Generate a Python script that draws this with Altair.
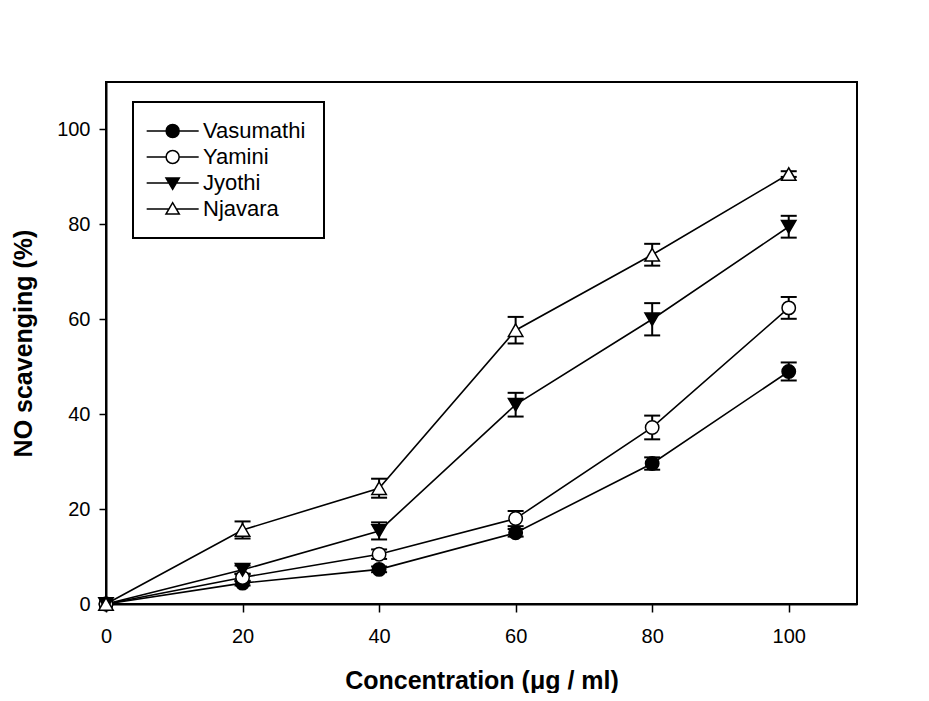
import altair as alt
import pandas as pd

# ---- data ----
conc = [0, 20, 40, 60, 80, 100]
series_names = ["Vasumathi", "Yamini", "Jyothi", "Njavara"]
vasumathi = [0, 4.4, 7.3, 15.0, 29.6, 49.0]
vasumathi_err = [0, 0.5, 0.6, 0.8, 1.3, 1.9]
yamini = [0, 5.6, 10.5, 18.0, 37.2, 62.4]
yamini_err = [0, 0.8, 1.0, 1.6, 2.5, 2.3]
jyothi = [0, 7.2, 15.4, 42.0, 60.0, 79.5]
jyothi_err = [0, 0.9, 1.8, 2.5, 3.4, 2.3]
njavara = [0, 15.6, 24.4, 57.7, 73.6, 90.6]
njavara_err = [0, 1.8, 2.0, 2.8, 2.3, 0.6]
x_ticks = [0, 20, 40, 60, 80, 100]
y_ticks = [0, 20, 40, 60, 80, 100]

values = {"Vasumathi": vasumathi, "Yamini": yamini, "Jyothi": jyothi, "Njavara": njavara}
errors = {"Vasumathi": vasumathi_err, "Yamini": yamini_err, "Jyothi": jyothi_err, "Njavara": njavara_err}

rows = []
for name in series_names:
    for c, v, e in zip(conc, values[name], errors[name]):
        rows.append({"series": name, "conc": c, "value": v, "err": e,
                     "lo": v - e, "hi": v + e})
df = pd.DataFrame(rows)

FONT = "Liberation Sans"

xscale = alt.Scale(domain=[0, 110], nice=False, zero=False)
yscale = alt.Scale(domain=[0, 110], nice=False, zero=False)
xaxis = alt.Axis(values=x_ticks, title="Concentration (μg / ml)", grid=False,
                 tickSize=8, tickWidth=1.5, tickColor="black",
                 domainColor="black", domainWidth=2, labelFlush=False,
                 labelFont=FONT, labelFontSize=20, labelColor="black", labelPadding=14,
                 titleFont=FONT, titleFontSize=25, titleFontWeight="bold", titleColor="black",
                 titleX=375.5, titleY=84, titleBaseline="alphabetic", titleAlign="center")
yaxis = alt.Axis(values=y_ticks, title="NO scavenging (%)", grid=False,
                 tickSize=7, tickWidth=1.5, tickColor="black",
                 domainColor="black", domainWidth=2, labelFlush=False,
                 labelFont=FONT, labelFontSize=20, labelColor="black", labelPadding=9,
                 titleFont=FONT, titleFontSize=25, titleFontWeight="bold", titleColor="black",
                 titleX=-75, titleY=261, titleAngle=-90, titleBaseline="alphabetic",
                 titleAlign="center")

X = alt.X("conc:Q", scale=xscale, axis=xaxis)
Y = alt.Y("value:Q", scale=yscale, axis=yaxis)

base = alt.Chart(df)

lines = base.mark_line(color="black", strokeWidth=1.6).encode(x=X, y=Y, detail="series:N")

err_df = base.transform_filter(alt.datum.err > 0)
err_rule = err_df.mark_rule(color="black", strokeWidth=2).encode(
    x=X, y=alt.Y("lo:Q", scale=yscale, axis=yaxis), y2="hi:Q")
cap_lo = err_df.mark_tick(orient="horizontal", size=16, thickness=2, color="black", opacity=1).encode(
    x=X, y=alt.Y("lo:Q", scale=yscale, axis=yaxis))
cap_hi = err_df.mark_tick(orient="horizontal", size=16, thickness=2, color="black", opacity=1).encode(
    x=X, y=alt.Y("hi:Q", scale=yscale, axis=yaxis))

styles = {
    "Vasumathi": ("circle", "black", 180),
    "Yamini": ("circle", "white", 180),
    "Jyothi": ("triangle-down", "black", 210),
    "Njavara": ("triangle-up", "white", 210),
}
point_layers = []
for name in series_names:
    shp, fill, sz = styles[name]
    point_layers.append(
        base.transform_filter(alt.datum.series == name)
        .mark_point(shape=shp, filled=True, fill=fill, stroke="black",
                    strokeWidth=1.5, size=sz, opacity=1)
        .encode(x=X, y=Y)
    )

# legend symbols: line + marker drawn as one custom symbol path
c = 1.52
r = 0.93
L0, L1 = -2.19, 5.24
circle_path = (f"M{L0},0L{c - r},0M{c + r},0L{L1},0"
               f"M{c - r},0A{r},{r} 0 1,0 {c + r},0A{r},{r} 0 1,0 {c - r},0Z")
tri_down = (f"M{L0},0L{L1},0"
            f"M{c - 0.95},-0.72L{c + 0.95},-0.72L{c},0.9Z")
tri_up = (f"M{L0},0L{c - 0.5},0M{c + 0.5},0L{L1},0"
          f"M{c - 0.95},0.72L{c + 0.95},0.72L{c},-0.9Z")
legend_paths = [circle_path, circle_path, tri_down, tri_up]
legend_fills = ["black", "white", "black", "white"]
legend_strokes = ["black", "black", "black", "black"]

leg = alt.Legend(title=None, orient="none", legendX=27, legendY=20,
                 padding=18, rowPadding=4, labelOffset=30,
                 labelFont=FONT, labelFontSize=22, labelColor="black",
                 symbolSize=196, symbolStrokeWidth=1.5,
                 symbolOpacity=1, strokeColor="black")

legend_layer = base.transform_filter("false").mark_point(
    filled=True, strokeWidth=1.5, size=196, opacity=1
).encode(
    x=X, y=Y,
    shape=alt.Shape("series:N", scale=alt.Scale(domain=series_names, range=legend_paths), legend=leg),
    fill=alt.Fill("series:N", scale=alt.Scale(domain=series_names, range=legend_fills), legend=leg),
    stroke=alt.Stroke("series:N", scale=alt.Scale(domain=series_names, range=legend_strokes), legend=leg),
)

chart = alt.layer(lines, err_rule, cap_lo, cap_hi, *point_layers, legend_layer).properties(
    width=751, height=522,
    autosize=alt.AutoSizeParams(type="none"),
    padding={"left": 98, "top": 74, "right": 64, "bottom": 89},
    background="white",
).configure_view(stroke="black", strokeWidth=2).configure_legend(strokeWidth=2)

chart.save("out.html", embed_options={"renderer": "svg", "actions": False})
